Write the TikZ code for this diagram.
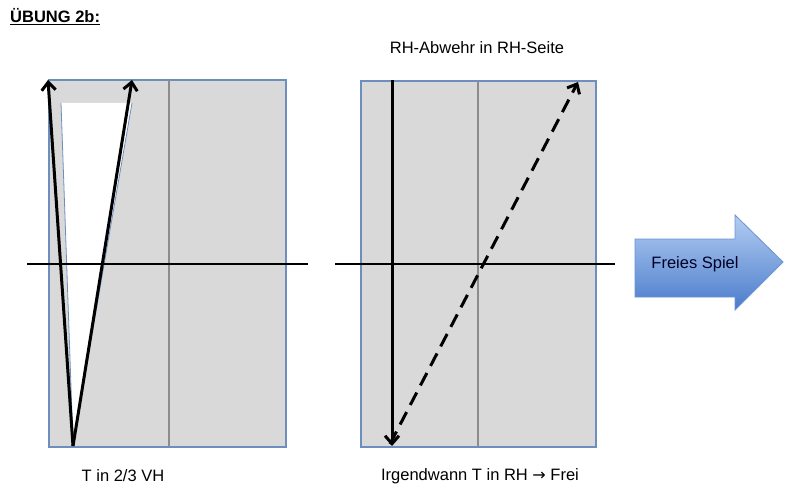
\documentclass[tikz,border=0pt]{standalone}
\usepackage{fontspec}
\setmainfont{Liberation Sans}
\newfontfamily\symfam{DejaVu Sans}
\usetikzlibrary{arrows.meta}
\definecolor{panelfill}{HTML}{D9D9D9}
\definecolor{paneledge}{HTML}{6E8EC0}
\definecolor{midline}{HTML}{8C8C8C}
\definecolor{arrowtop}{HTML}{B3CDF2}
\definecolor{arrowbot}{HTML}{4A7CCB}
\definecolor{arrowedge}{HTML}{6A93D3}
\begin{document}
\begin{tikzpicture}[x=1pt,y=-1pt,
  panel/.style={fill=panelfill,draw=paneledge,line width=2pt},
  half/.style={draw=midline,line width=2pt},
  axis/.style={draw=black,line width=2pt},
  run/.style={draw=black,line width=3pt,-{Straight Barb[length=8pt,width=14pt,line width=3pt]}},
  lbl/.style={font=\fontsize{16.5}{18}\selectfont,inner sep=0pt}]
\useasboundingbox (0,0) rectangle (793,500);
% title
\node[lbl,font=\fontsize{16.5}{18}\selectfont\bfseries,anchor=west] (title) at (10,17) {\underline{ÜBUNG 2b:}};
% left panel
\node[panel,minimum width=237pt,minimum height=367pt,anchor=north west,inner sep=0pt] (lp) at (48,79) {};
\coordinate (lmt) at (169,80);
\coordinate (lmb) at (169,446);
\draw[half] (lmt) -- (lmb);
\coordinate (wtl) at (61,103);
\coordinate (wtr) at (132,103);
\coordinate (wb) at (73,444);
\fill[white] (wtl) -- (wtr) -- (wb) -- cycle;
\draw[paneledge,line width=0.8pt] (wtl) -- (wb) -- (wtr);
\coordinate (lha) at (27,264);
\coordinate (lhb) at (308,264);
\draw[axis] (lha) -- (lhb);
\coordinate (lsrc) at (73,446);
\coordinate (ltip1) at (48,80);
\coordinate (ltip2) at (132,80);
\draw[run] (lsrc) -- (ltip1);
\draw[run] (lsrc) -- (ltip2);
\node[lbl] (llbl) at (123,476) {T in 2/3 VH};
% right panel
\node[panel,minimum width=235pt,minimum height=366pt,anchor=north west,inner sep=0pt] (rp) at (360,80) {};
\coordinate (rmt) at (478,81);
\coordinate (rmb) at (478,446);
\draw[half] (rmt) -- (rmb);
\coordinate (rha) at (335,264);
\coordinate (rhb) at (615,264);
\draw[axis] (rha) -- (rhb);
\coordinate (rvt) at (392,80);
\coordinate (rvb) at (392,446);
\draw[run] (rvt) -- (rvb);
\coordinate (rds) at (390,444);
\coordinate (rdt) at (578,82);
\draw[run,dash pattern=on 14pt off 8pt] (rds) -- (rdt);
\node[lbl] (rtop) at (477,48) {RH-Abwehr in RH-Seite};
\node[lbl] (rlbl) at (480,476) {Irgendwann T in RH {\symfam\fontsize{16}{18}\selectfont →} Frei};
% block arrow
\draw[draw=arrowedge,line width=0.8pt,top color=arrowtop,bottom color=arrowbot]
  (635,239) -- (735,239) -- (735,215) -- (783,262) -- (735,310) -- (735,297) -- (635,297) -- cycle;
\node[lbl,text=black!85!blue] (free) at (695,264) {Freies Spiel};
\end{tikzpicture}
\end{document}
